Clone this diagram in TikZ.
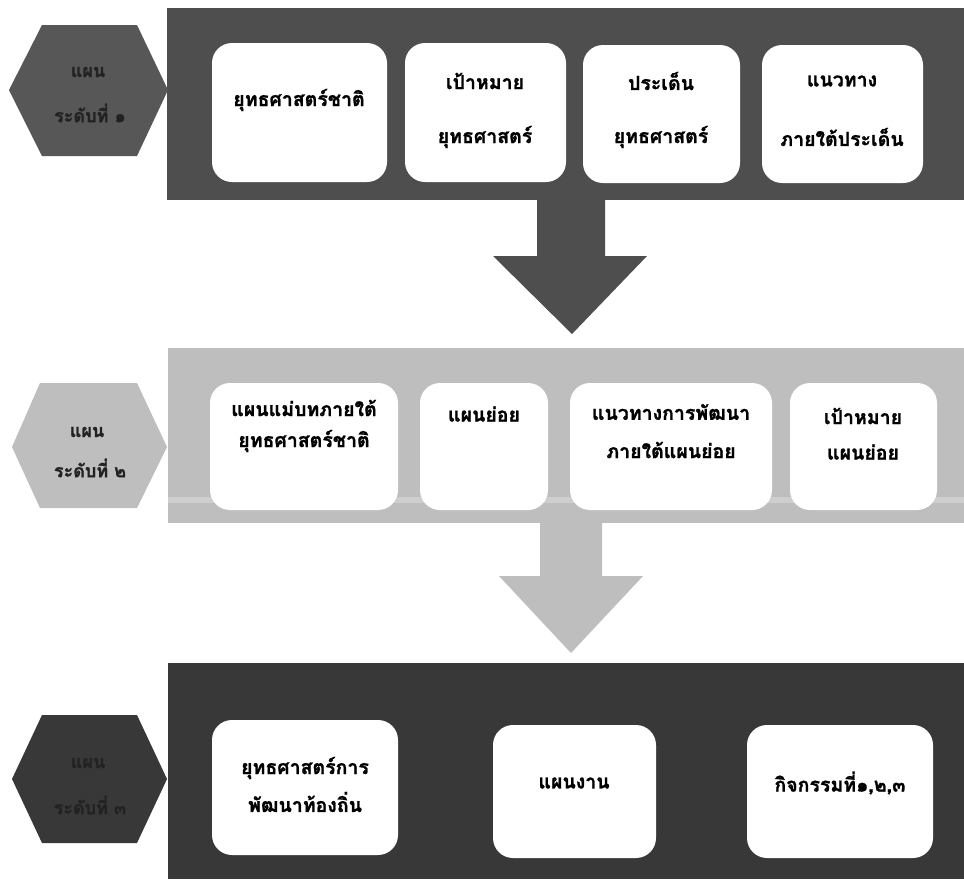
\documentclass[tikz,border=0pt]{standalone}
\usepackage{fontspec}
\newfontfamily\thai[Script=Thai, BoldFeatures={FakeBold=1.2}]{Loma}
\definecolor{darkband}{HTML}{4E4E4E}
\definecolor{darkerband}{HTML}{383838}
\definecolor{lightband}{HTML}{BEBEBE}
\definecolor{hextext}{HTML}{222222}
\tikzset{
  box/.style={draw=none, fill=white, rounded corners=20pt},
  lbl/.style={font=\thai\bfseries\fontsize{19.5pt}{22pt}\selectfont, text=black, inner sep=0pt},
  hexlbl/.style={font=\thai\bfseries\fontsize{18pt}{21pt}\selectfont, text=hextext, inner sep=0pt},
}
\begin{document}
\begin{tikzpicture}[x=1pt,y=-1pt]
\useasboundingbox (0,0) rectangle (964,879);
\fill[white] (0,0) rectangle (964,879);
% ---------- band 1 ----------
\fill[darkband] (167,8) rectangle (964,200);
\fill[darkband!95!white] (9,90) -- (42,25) -- (137,25) -- (168,90) -- (137,156) -- (42,156) -- cycle;
\node[hexlbl] (h1a) at (88,72) {แผน};
\node[hexlbl] (h1b) at (90,113) {ระดับที่ ๑};
\fill[box] (212,43) rectangle (387,182) coordinate (b11);
\fill[box] (405,43) rectangle (566,182) coordinate (b12);
\fill[box] (583,45) rectangle (740,183) coordinate (b13);
\fill[box] (762,45) rectangle (923,183) coordinate (b14);
\node[lbl] (t11) at (299,100) {ยุทธศาสตร์ชาติ};
\node[lbl] (t12a) at (485,81) {เป้าหมาย};
\node[lbl] (t12b) at (485,137) {ยุทธศาสตร์};
\node[lbl] (t13a) at (661,81) {ประเด็น};
\node[lbl] (t13b) at (661,137) {ยุทธศาสตร์};
\node[lbl] (t14a) at (842,81) {แนวทาง};
\node[lbl] (t14b) at (842,137) {ภายใต้ประเด็น};
% ---------- arrow 1 ----------
\fill[darkband] (537,195) -- (605,195) -- (605,256) -- (647,256) -- (572,334) -- (493,256) -- (537,256) -- cycle;
% ---------- band 2 ----------
\fill[lightband] (168,348) rectangle (964,523);
\fill[lightband!75!white] (168,497) rectangle (964,503);
\fill[lightband] (12,447) -- (40,383) -- (137,383) -- (167,447) -- (137,508) -- (40,508) -- cycle;
\node[hexlbl] (h2a) at (87,432) {แผน};
\node[hexlbl] (h2b) at (90,468) {ระดับที่ ๒};
\fill[box] (210,383) rectangle (398,510) coordinate (b21);
\fill[box] (420,383) rectangle (548,510) coordinate (b22);
\fill[box] (570,383) rectangle (772,510) coordinate (b23);
\fill[box] (790,383) rectangle (937,510) coordinate (b24);
\node[lbl] (t21a) at (304,408) {แผนแม่บทภายใต้};
\node[lbl] (t21b) at (304,441) {ยุทธศาสตร์ชาติ};
\node[lbl] (t22) at (484,414) {แผนย่อย};
\node[lbl] (t23a) at (671,412) {แนวทางการพัฒนา};
\node[lbl] (t23b) at (671,450) {ภายใต้แผนย่อย};
\node[lbl] (t24a) at (863,416) {เป้าหมาย};
\node[lbl] (t24b) at (863,452) {แผนย่อย};
% ---------- arrow 2 ----------
\fill[lightband] (540,518) -- (602,518) -- (602,576) -- (643,576) -- (571,653) -- (499,576) -- (540,576) -- cycle;
% ---------- band 3 ----------
\fill[darkerband] (168,663) rectangle (964,879);
\fill[darkerband] (12,779) -- (42,715) -- (137,715) -- (167,779) -- (137,843) -- (42,843) -- cycle;
\node[hexlbl] (h3a) at (88,763) {แผน};
\node[hexlbl] (h3b) at (90,805) {ระดับที่ ๓};
\fill[box] (212,720) rectangle (398,855) coordinate (b31);
\fill[box] (493,725) rectangle (656,858) coordinate (b32);
\fill[box] (747,725) rectangle (933,858) coordinate (b33);
\node[lbl] (t31a) at (305,768) {ยุทธศาสตร์การ};
\node[lbl] (t31b) at (305,802) {พัฒนาท้องถิ่น};
\node[lbl] (t32) at (574,783) {แผนงาน};
\node[lbl] (t33) at (840,783) {กิจกรรมที่๑,๒,๓};
\end{tikzpicture}
\end{document}
